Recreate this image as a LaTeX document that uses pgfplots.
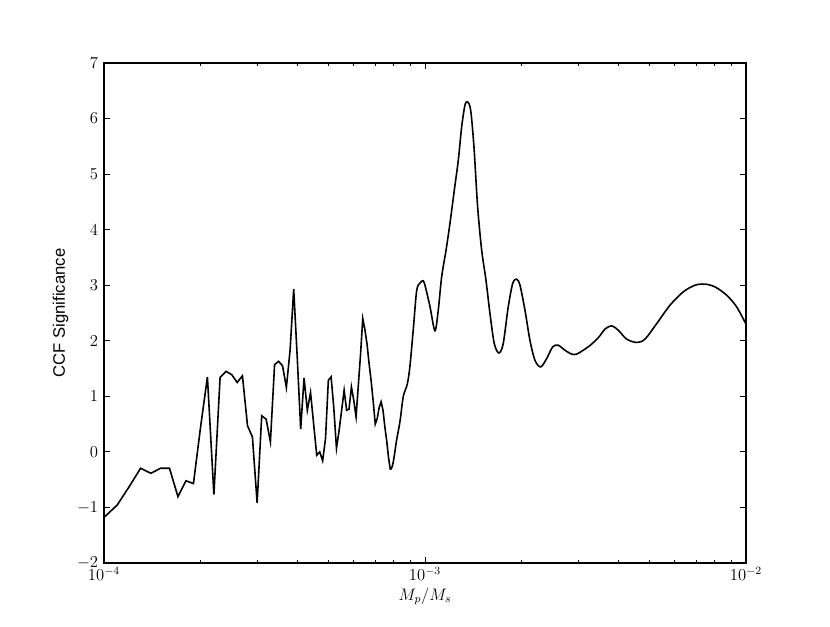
\documentclass[12pt,border=0pt]{standalone}
\usepackage{pgfplots}
\pgfplotsset{compat=1.18}
\usepackage{fontspec}
\newfontfamily\labelsans{Liberation Sans}
\begin{document}
\begin{tikzpicture}
\useasboundingbox (-74.88pt,-45.36pt) rectangle (522.72pt,405.36pt);
\begin{axis}[
  at={(0,0)}, anchor=south west,
  scale only axis, width=462.24pt, height=360pt,
  xmode=log, xmin=1e-4, xmax=1e-2,
  ymin=-2, ymax=7, ytick={-2,-1,0,1,2,3,4,5,6,7},
  tick align=inside, tick pos=both,
  major tick length=4.3pt, minor tick length=2.4pt,
  axis line style={line width=0.8pt},
  every tick/.style={black, line width=0.6pt},
  tick label style={font=\fontsize{12}{14}\selectfont},
  xlabel={$M_p/M_s$}, ylabel={\labelsans CCF Significance},
  xlabel style={yshift=3pt},
  ylabel style={yshift=-2pt},
  xticklabel style={yshift=1pt},
  clip=true,
]
\addplot[black, line width=1.15pt] coordinates {
(1.0e-4,-1.18) (1.1e-4,-0.955) (1.2e-4,-0.62) (1.3e-4,-0.295) (1.4e-4,-0.385)
(1.5e-4,-0.295) (1.6e-4,-0.295) (1.7e-4,-0.805) (1.8e-4,-0.52) (1.9e-4,-0.57)
(2.0e-4,0.45) (2.1e-4,1.35) (2.2e-4,-0.77) (2.3e-4,1.34) (2.4e-4,1.45)
(2.5e-4,1.39) (2.6e-4,1.25) (2.7e-4,1.37) (2.8e-4,0.47) (2.9e-4,0.27)
(3.0e-4,-0.92) (3.1e-4,0.65) (3.2e-4,0.59) (3.3e-4,0.18) (3.4e-4,1.57)
(3.5e-4,1.63) (3.6e-4,1.55) (3.7e-4,1.16) (3.8e-4,1.83) (3.9e-4,2.93)
(4.0e-4,1.7) (4.1e-4,0.41) (4.2e-4,1.33) (4.3e-4,0.75) (4.4e-4,1.07)
(4.5e-4,0.5) (4.6e-4,-0.06) (4.7e-4,0.0) (4.8e-4,-0.16) (4.9e-4,0.245)
(5.0e-4,1.29) (5.1e-4,1.35) (5.2e-4,0.79) (5.3e-4,0.065) (5.4e-4,0.38)
(5.5e-4,0.75) (5.6e-4,1.11) (5.7e-4,0.75) (5.8e-4,0.77) (5.9e-4,1.17)
(6.0e-4,0.93) (6.1e-4,0.63) (6.2e-4,1.2) (6.3e-4,1.76) (6.4e-4,2.40)
(6.5e-4,2.2) (6.6e-4,1.94) (6.7e-4,1.58) (6.8e-4,1.27) (6.9e-4,0.9)
(7.0e-4,0.5) (7.1e-4,0.6) (7.2e-4,0.8) (7.3e-4,0.9) (7.4e-4,0.75)
(7.5e-4,0.45) (7.6e-4,0.2) (7.7e-4,-0.1) (7.8e-4,-0.32)
};
\addplot[black, line width=1.15pt, smooth, tension=0.5] coordinates {
(7.8e-4,-0.32) (7.9e-4,-0.27) (8.0e-4,-0.12) (8.16e-4,0.215) (8.36e-4,0.55)
(8.56e-4,1.0) (8.81e-4,1.22) (8.98e-4,1.55) (9.20e-4,2.22) (9.42e-4,2.9)
(9.65e-4,3.04) (9.88e-4,3.08) (1.005e-3,2.95) (1.037e-3,2.61) (1.074e-3,2.18)
(1.100e-3,2.55) (1.127e-3,3.15) (1.163e-3,3.63) (1.196e-3,4.11) (1.234e-3,4.71)
(1.270e-3,5.25) (1.301e-3,5.85) (1.332e-3,6.24) (1.358e-3,6.30) (1.388e-3,6.15)
(1.421e-3,5.49) (1.459e-3,4.41) (1.502e-3,3.63) (1.549e-3,3.09) (1.594e-3,2.49)
(1.644e-3,1.95) (1.700e-3,1.78) (1.753e-3,1.95) (1.817e-3,2.61) (1.876e-3,3.03)
(1.930e-3,3.11) (1.977e-3,3.0) (2.049e-3,2.55) (2.123e-3,2.01) (2.201e-3,1.65)
(2.293e-3,1.53) (2.394e-3,1.68) (2.499e-3,1.89) (2.601e-3,1.92) (2.729e-3,1.83)
(2.864e-3,1.76) (2.968e-3,1.76) (3.112e-3,1.83) (3.289e-3,1.93) (3.484e-3,2.07)
(3.637e-3,2.21) (3.816e-3,2.27) (4.001e-3,2.19) (4.249e-3,2.03) (4.566e-3,1.97)
(4.846e-3,2.03) (5.272e-3,2.31) (5.797e-3,2.64) (6.376e-3,2.88) (6.935e-3,3.0)
(7.450e-3,3.02) (8.008e-3,2.97) (8.708e-3,2.82) (9.353e-3,2.61) (1.0e-2,2.30)
};
\end{axis}
\end{tikzpicture}
\end{document}
